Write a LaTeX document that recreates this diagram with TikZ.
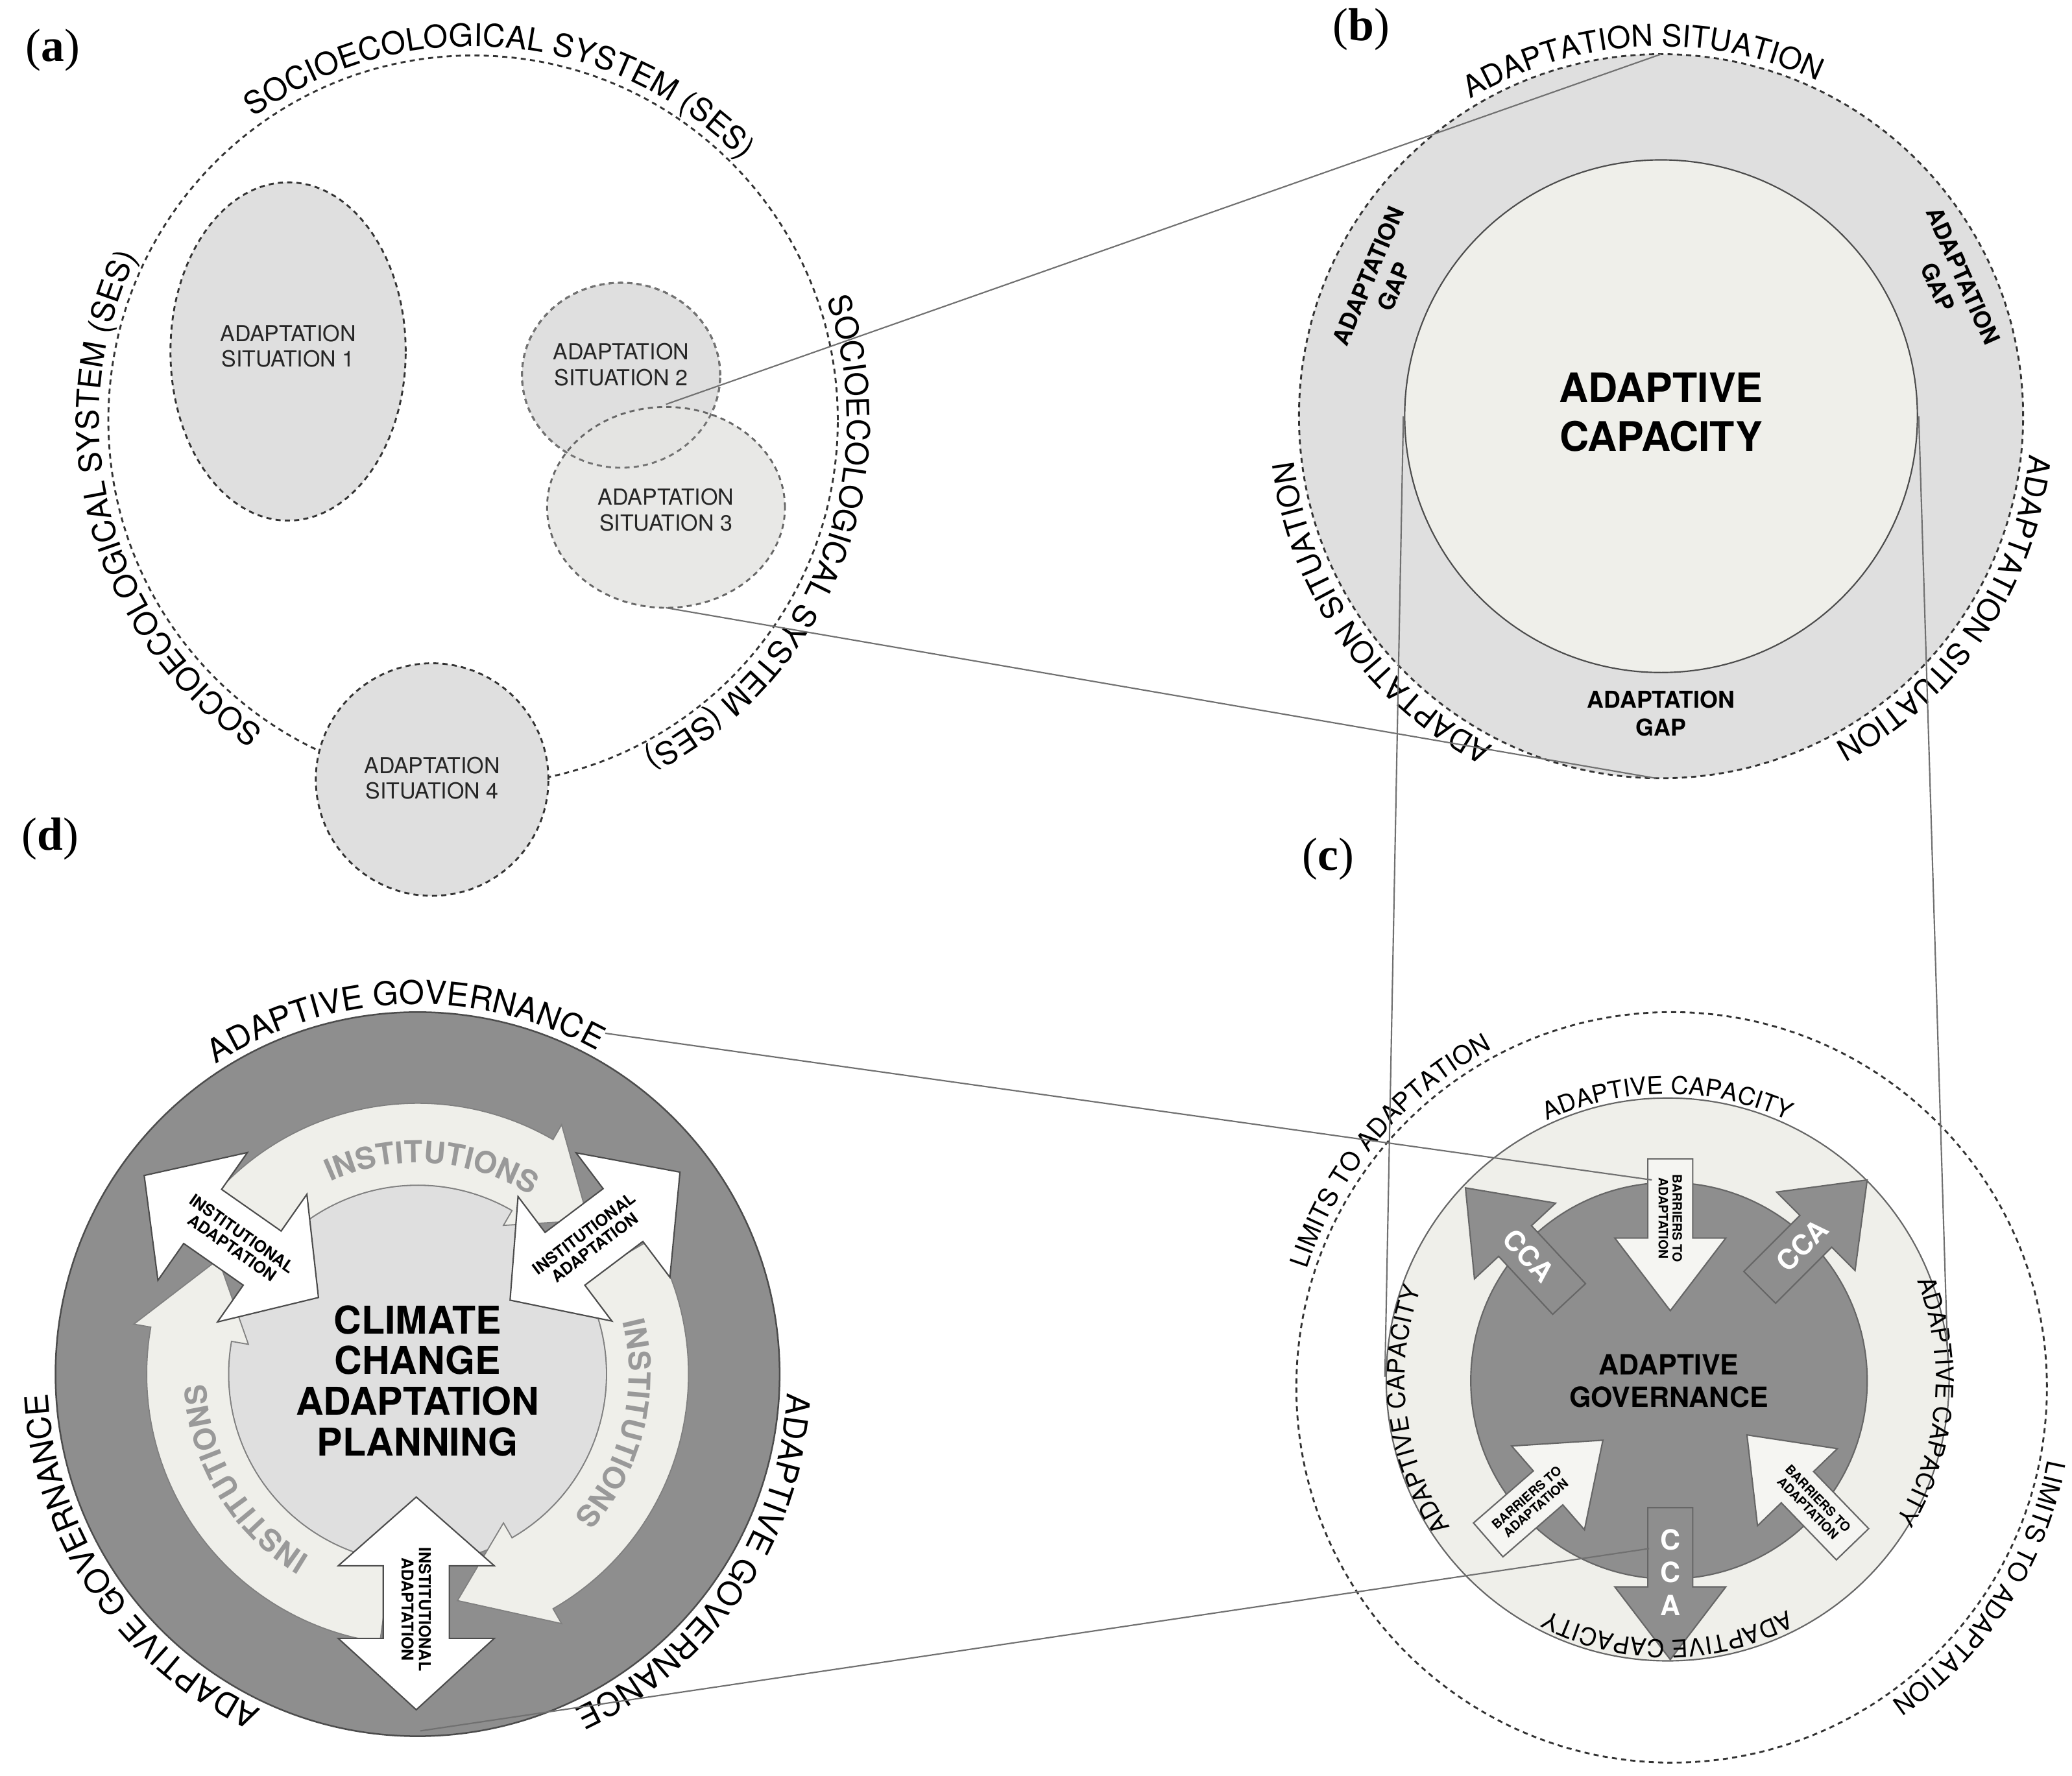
\documentclass[tikz,border=0pt]{standalone}
\usepackage{fontspec}
\setmainfont{TeX Gyre Heros}
\newfontfamily\seriff{Liberation Serif}
\usetikzlibrary{decorations.text,calc}
\definecolor{dk}{HTML}{8E8E8E}
\definecolor{lt}{HTML}{EFEFEA}
\definecolor{md}{HTML}{DFDFDF}
\definecolor{ln}{HTML}{707070}
\newcommand\arctxt[6]{\path[decorate,decoration={text along path,text align=center,text={|#5|#6}}] (#1) ++({#3+#4}:#2) arc[start angle={#3+#4},end angle={#3-#4},radius=#2];}
\newcommand\carr[3]{\draw[#3,shift={(#1)},rotate=#2] (0,0) -- (-55,42) -- (-55,17) -- (-115,17) -- (-115,-17) -- (-55,-17) -- (-55,-42) -- cycle;}
\newcommand\darr[2]{\draw[warr,shift={(#1)},rotate=#2] (0,0) -- (-52,59) -- (-52,25) -- (-107,25) -- (-107,59) -- (-161,0) -- (-107,-59) -- (-107,-25) -- (-52,-25) -- (-52,-59) -- cycle;}
\newcommand\ringarr[3]{\filldraw[lt,draw=gray,line width=0.5pt,shift={(cd)}] (#1:205) arc[start angle=#1,end angle=#3,radius=205] -- (#3:218) -- (#2:174) -- (#3:130) -- (#3:143) arc[start angle=#3,end angle=#1,radius=143] -- cycle;}
\begin{document}
\begin{tikzpicture}[x=0.02cm,y=0.02cm,
  dsh/.style={dash pattern=on 2.2pt off 1.8pt,line width=0.8pt,draw=black!80},
  conn/.style={draw=ln,line width=0.6pt},
  lab/.style={font=\seriff\fontsize{20}{20}\selectfont,inner sep=0},
  sit/.style={font=\fontsize{9.5}{11}\selectfont,align=center,text=black!85},
  darkarr/.style={fill=dk,draw=black!60,line width=0.6pt},
  whitearr/.style={fill=lt!60!white,draw=black!60,line width=0.6pt},
  warr/.style={fill=white,draw=black!70,line width=0.6pt},
  tiny/.style={font=\bfseries\fontsize{5.5}{6}\selectfont,align=center},
  ia/.style={font=\bfseries\fontsize{7}{7.5}\selectfont,align=center}]
\useasboundingbox (0,0) rectangle (1568,-1344);
% labels
\node[lab] (la) at (40,-38) {(\textbf{a})};
\node[lab] (lb) at (1030,-22) {(\textbf{b})};
\node[lab] (lc) at (1005,-650) {(\textbf{c})};
\node[lab] (ld) at (38,-635) {(\textbf{d})};
% ---------- panel a
\coordinate (ca) at (358,-318);
\draw[dsh] (ca) circle[radius=276];
\filldraw[md,dsh] (218,-266) ellipse[x radius=89,y radius=128];
\filldraw[md,dsh] (470,-284) ellipse[x radius=75,y radius=70];
\fill[lt!40!md,fill opacity=0.9] (504,-384) ellipse[x radius=90,y radius=76];
\draw[dsh,draw=black!60] (504,-384) ellipse[x radius=90,y radius=76];
\draw[dsh,draw=black!55] (470,-284) ellipse[x radius=75,y radius=70];
\filldraw[md,dsh] (327,-590) circle[radius=88];
\node[sit] (s1) at (218,-262) {ADAPTATION\\SITUATION 1};
\node[sit] (s2) at (470,-276) {ADAPTATION\\SITUATION 2};
\node[sit] (s3) at (504,-386) {ADAPTATION\\SITUATION 3};
\node[sit] (s4) at (327,-589) {ADAPTATION\\SITUATION 4};
\arctxt{ca}{283}{85}{85}{\fontsize{13.5}{13.5}\selectfont}{SOCIOECOLOGICAL SYSTEM (SES)}
\arctxt{ca}{283}{195}{85}{\fontsize{13.5}{13.5}\selectfont}{SOCIOECOLOGICAL SYSTEM (SES)}
\arctxt{ca}{283}{-22}{85}{\fontsize{13.5}{13.5}\selectfont}{SOCIOECOLOGICAL SYSTEM (SES)}
% ---------- panel b
\coordinate (cb) at (1257,-315);
\filldraw[md,dsh] (cb) circle[radius=274];
\filldraw[lt,draw=black!70,line width=0.6pt] (cb) circle[radius=194];
\node[font=\bfseries\fontsize{17.5}{21}\selectfont,align=center] (ac) at (1257,-312) {ADAPTIVE\\CAPACITY};
\node[font=\bfseries\fontsize{10}{12}\selectfont,align=center,rotate=67] (g1) at (1045,-213) {ADAPTATION\\GAP};
\node[font=\bfseries\fontsize{10}{12}\selectfont,align=center,rotate=-66] (g2) at (1476,-213) {ADAPTATION\\GAP};
\node[font=\bfseries\fontsize{10}{12}\selectfont,align=center] (g3) at (1257,-540) {ADAPTATION\\GAP};
\arctxt{cb}{280}{93}{80}{\fontsize{13}{13}\selectfont}{ADAPTATION SITUATION}
\arctxt{cb}{280}{215}{80}{\fontsize{13}{13}\selectfont}{ADAPTATION SITUATION}
\arctxt{cb}{280}{-34}{80}{\fontsize{13}{13}\selectfont}{ADAPTATION SITUATION}
% ---------- panel c
\coordinate (cc) at (1265,-1050);
\coordinate (cm) at (1262,-1044);
\draw[dsh] (cc) circle[radius=284];
\filldraw[lt,draw=black!60,line width=0.6pt] (cm) circle[radius=213];
\filldraw[dk,draw=black!60,line width=0.6pt] (1263,-1045) circle[radius=150];
\coordinate (t1) at (1264,-992);  \carr{t1}{-90}{whitearr}
\coordinate (t2) at (1264,-1256); \carr{t2}{-90}{darkarr}
\coordinate (t3) at (1109,-899);  \carr{t3}{133}{darkarr}
\coordinate (t4) at (1413,-893);  \carr{t4}{45}{darkarr}
\coordinate (t5) at (1213,-1090); \carr{t5}{41}{whitearr}
\coordinate (t6) at (1322,-1086); \carr{t6}{134}{whitearr}
\node[tiny,rotate=-90] (b1) at ($(t1)+(0,70)$) {BARRIERS TO\\ADAPTATION};
\path (t5) ++(221:72) node[tiny,rotate=41] (b2) {BARRIERS TO\\ADAPTATION};
\path (t6) ++(314:72) node[tiny,rotate=-46] (b3) {BARRIERS TO\\ADAPTATION};
\path (t3) ++(313:70) node[font=\bfseries\fontsize{12}{12}\selectfont,text=white,rotate=-47] (k1) {CCA};
\path (t4) ++(225:70) node[font=\bfseries\fontsize{12}{12}\selectfont,text=white,rotate=45] (k2) {CCA};
\node[font=\bfseries\fontsize{12}{14}\selectfont,text=white,align=center] (k3) at (1264,-1190) {C\\C\\A};
\node[font=\bfseries\fontsize{12}{14}\selectfont,align=center] (ag) at (1263,-1045) {ADAPTIVE\\GOVERNANCE};
\arctxt{cc}{290}{140}{70}{\fontsize{11}{11}\selectfont}{LIMITS TO ADAPTATION}
\arctxt{cc}{290}{-33}{70}{\fontsize{11}{11}\selectfont}{LIMITS TO ADAPTATION}
\arctxt{cm}{216}{90}{70}{\fontsize{10.5}{10.5}\selectfont}{ADAPTIVE CAPACITY}
\arctxt{cm}{199}{187}{70}{\fontsize{10.5}{10.5}\selectfont}{ADAPTIVE CAPACITY}
\arctxt{cm}{203}{-5}{70}{\fontsize{10.5}{10.5}\selectfont}{ADAPTIVE CAPACITY}
\arctxt{cm}{197}{270}{70}{\fontsize{10.5}{10.5}\selectfont}{ADAPTIVE CAPACITY}
% ---------- panel d
\coordinate (cd) at (316,-1040);
\filldraw[dk,draw=black!70,line width=0.7pt] (cd) circle[radius=274];
\filldraw[md,draw=gray,line width=0.5pt] (cd) circle[radius=143];
\ringarr{150}{42}{60}
\ringarr{30}{-80}{-60}
\ringarr{262}{150}{170}
\coordinate (w1) at (241,-982); \darr{w1}{-35}
\coordinate (w2) at (386,-984); \darr{w2}{217}
\coordinate (w3) at (315,-1133); \darr{w3}{90}
\path (w1) ++(145:75) node[ia,rotate=-35] (i1) {INSTITUTIONAL\\ADAPTATION};
\path (w2) ++(37:75) node[ia,rotate=37] (i2) {INSTITUTIONAL\\ADAPTATION};
\path (w3) ++(270:85) node[ia,rotate=-90] (i3) {INSTITUTIONAL\\ADAPTATION};
\node[font=\bfseries\fontsize{16.5}{17.5}\selectfont,align=center] (cc2) at (316,-1045) {CLIMATE\\CHANGE\\ADAPTATION\\PLANNING};
\arctxt{cd}{160}{86}{55}{\bfseries\color{black!40}\fontsize{13}{13}\selectfont}{INSTITUTIONS}
\arctxt{cd}{160}{-14}{55}{\bfseries\color{black!40}\fontsize{13}{13}\selectfont}{INSTITUTIONS}
\arctxt{cd}{160}{211}{55}{\bfseries\color{black!40}\fontsize{13}{13}\selectfont}{INSTITUTIONS}
\arctxt{cd}{280}{92}{75}{\fontsize{14}{14}\selectfont}{ADAPTIVE GOVERNANCE}
\arctxt{cd}{280}{214}{75}{\fontsize{14}{14}\selectfont}{ADAPTIVE GOVERNANCE}
\arctxt{cd}{280}{-34}{75}{\fontsize{14}{14}\selectfont}{ADAPTIVE GOVERNANCE}
% ---------- connectors
\coordinate (p1) at (504,-306); \coordinate (q1) at (1257,-41);
\coordinate (p2) at (504,-460); \coordinate (q2) at (1253,-589);
\coordinate (p3) at (1062,-315); \coordinate (q3) at (1048,-1042);
\coordinate (p4) at (1452,-315); \coordinate (q4) at (1474,-1030);
\coordinate (p5) at (458,-782); \coordinate (q5) at (1250,-893);
\coordinate (p6) at (318,-1310); \coordinate (q6) at (1248,-1172);
\draw[conn] (p1) -- (q1);
\draw[conn] (p2) -- (q2);
\draw[conn] (p3) -- (q3);
\draw[conn] (p4) -- (q4);
\draw[conn] (p5) -- (q5);
\draw[conn] (p6) -- (q6);
\end{tikzpicture}
\end{document}
